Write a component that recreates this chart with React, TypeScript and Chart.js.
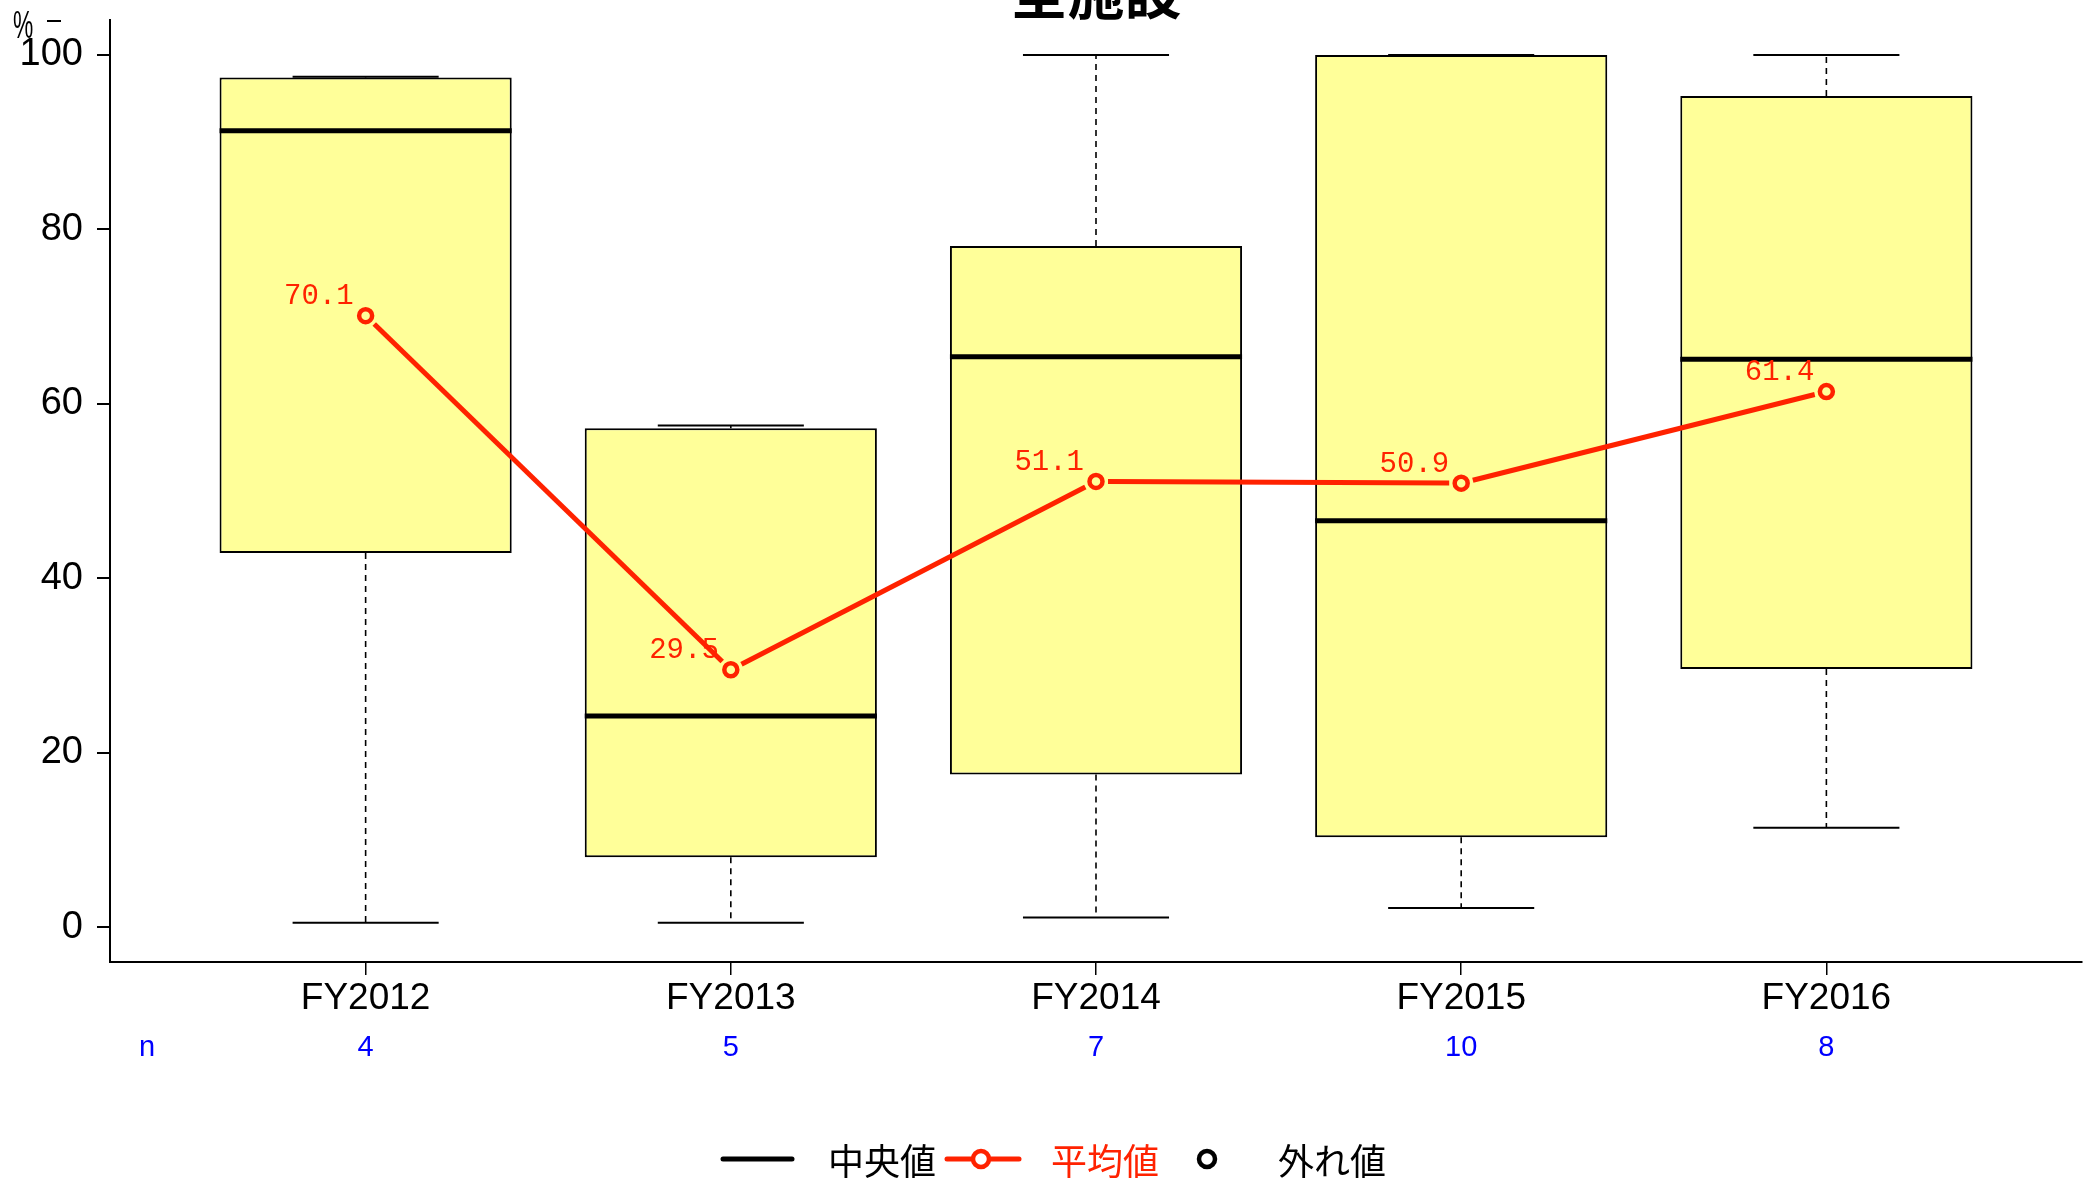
import React, { useEffect, useRef } from "react";
import { Chart, registerables } from "chart.js";

Chart.register(...registerables);

const categories = ["FY2012", "FY2013", "FY2014", "FY2015", "FY2016"];
const nValues = [4, 5, 7, 10, 8];
const whiskerLow = [0.5, 0.5, 1.1, 2.2, 11.4];
const q1 = [42.9, 8.0, 17.5, 10.3, 29.6];
const median = [91.3, 24.2, 65.4, 46.6, 65.1];
const q3 = [97.4, 57.2, 78.1, 100, 95.3];
const whiskerHigh = [97.5, 57.5, 100, 100, 100];
const means = [70.1, 29.5, 51.1, 50.9, 61.4];
const yTicks = [0, 20, 40, 60, 80, 100];

const RED = "#FF2200";
const BOX_FILL = "#FFFF99";
const TICK_FONT = "Liberation Sans";
const CJK_FONT = "'Noto Sans CJK JP'";

const boxPlugin = {
  id: "boxExtras",
  afterDatasetDraw(chart: any, args: any) {
    if (args.index !== 0) return;
    const ctx = chart.ctx;
    const xs = chart.scales.x;
    const ys = chart.scales.y;
    const unit = xs.getPixelForValue(1) - xs.getPixelForValue(0);
    ctx.save();
    categories.forEach((_, i) => {
      const cx = xs.getPixelForValue(i);
      ctx.strokeStyle = "#000";
      ctx.lineWidth = 1.6;
      ctx.setLineDash([6, 5]);
      ctx.beginPath();
      ctx.moveTo(cx, ys.getPixelForValue(q1[i]));
      ctx.lineTo(cx, ys.getPixelForValue(whiskerLow[i]));
      if (whiskerHigh[i] > q3[i]) {
        ctx.moveTo(cx, ys.getPixelForValue(q3[i]));
        ctx.lineTo(cx, ys.getPixelForValue(whiskerHigh[i]));
      }
      ctx.stroke();
      ctx.setLineDash([]);
      ctx.lineWidth = 2;
      ctx.beginPath();
      const hw = unit * 0.2;
      const yl = ys.getPixelForValue(whiskerLow[i]);
      const yh = ys.getPixelForValue(whiskerHigh[i]);
      ctx.moveTo(cx - hw, yl);
      ctx.lineTo(cx + hw, yl);
      ctx.moveTo(cx - hw, yh);
      ctx.lineTo(cx + hw, yh);
      ctx.stroke();
      ctx.lineWidth = 5;
      const bw = unit * 0.4;
      const ym = ys.getPixelForValue(median[i]);
      ctx.beginPath();
      ctx.moveTo(cx - bw, ym);
      ctx.lineTo(cx + bw, ym);
      ctx.stroke();
    });
    ctx.restore();
  },
  afterDatasetsDraw(chart: any) {
    const ctx = chart.ctx;
    const meta = chart.getDatasetMeta(1);
    const pts = meta.data.map((p: any) => ({ x: p.x, y: p.y }));
    ctx.save();
    ctx.strokeStyle = RED;
    ctx.lineWidth = 5;
    ctx.lineCap = "butt";
    const gap = 12;
    for (let i = 0; i < pts.length - 1; i++) {
      const a = pts[i];
      const b = pts[i + 1];
      const dx = b.x - a.x;
      const dy = b.y - a.y;
      const len = Math.hypot(dx, dy);
      const ux = dx / len;
      const uy = dy / len;
      ctx.beginPath();
      ctx.moveTo(a.x + ux * gap, a.y + uy * gap);
      ctx.lineTo(b.x - ux * gap, b.y - uy * gap);
      ctx.stroke();
    }
    ctx.fillStyle = RED;
    ctx.font = "29px 'Liberation Mono'";
    ctx.textAlign = "right";
    ctx.textBaseline = "middle";
    pts.forEach((p: any, i: number) => {
      ctx.fillText(means[i].toFixed(1), p.x - 12, p.y - 19);
    });
    ctx.restore();
  },
  afterDraw(chart: any) {
    const ctx = chart.ctx;
    const xs = chart.scales.x;
    ctx.save();
    ctx.fillStyle = "#000";
    ctx.font = `bold 57px ${CJK_FONT}`;
    ctx.textAlign = "center";
    ctx.textBaseline = "alphabetic";
    ctx.fillText("全施設", (chart.chartArea.left + chart.chartArea.right) / 2, 14);
    ctx.save();
    ctx.translate(13, 38);
    ctx.scale(0.6, 1);
    ctx.font = `38px ${TICK_FONT}`;
    ctx.textAlign = "left";
    ctx.textBaseline = "alphabetic";
    ctx.fillText("%", 0, 0);
    ctx.restore();
    ctx.strokeStyle = "#000";
    ctx.lineWidth = 2;
    ctx.beginPath();
    ctx.moveTo(47, 21);
    ctx.lineTo(61, 21);
    ctx.stroke();
    ctx.fillStyle = "#0000FF";
    ctx.font = `29px ${TICK_FONT}`;
    ctx.textAlign = "center";
    ctx.textBaseline = "middle";
    ctx.fillText("n", 147, 1048);
    nValues.forEach((n, i) => {
      ctx.fillText(String(n), xs.getPixelForValue(i), 1048);
    });
    const ly = 1159;
    ctx.lineCap = "round";
    ctx.strokeStyle = "#000";
    ctx.lineWidth = 5;
    ctx.beginPath();
    ctx.moveTo(723, ly);
    ctx.lineTo(792, ly);
    ctx.stroke();
    ctx.font = `36px ${CJK_FONT}`;
    ctx.textAlign = "left";
    ctx.textBaseline = "middle";
    ctx.fillStyle = "#000";
    ctx.fillText("中央値", 828, ly + 2);
    ctx.strokeStyle = RED;
    ctx.beginPath();
    ctx.moveTo(947, ly);
    ctx.lineTo(1019, ly);
    ctx.stroke();
    ctx.fillStyle = "#fff";
    ctx.lineWidth = 4.5;
    ctx.beginPath();
    ctx.arc(981, ly, 8, 0, Math.PI * 2);
    ctx.fill();
    ctx.stroke();
    ctx.fillStyle = RED;
    ctx.fillText("平均値", 1051, ly + 2);
    ctx.strokeStyle = "#000";
    ctx.beginPath();
    ctx.arc(1207, ly, 8, 0, Math.PI * 2);
    ctx.stroke();
    ctx.fillStyle = "#000";
    ctx.fillText("外れ値", 1278, ly + 2);
    ctx.restore();
  },
};

export default function App() {
  const ref = useRef<HTMLCanvasElement | null>(null);
  useEffect(() => {
    if (!ref.current) return;
    const chart = new Chart(ref.current, {
      type: "bar",
      data: {
        datasets: [
          {
            type: "bar",
            data: categories.map((_, i) => ({ x: i, y: [q1[i], q3[i]] })) as any,
            backgroundColor: BOX_FILL,
            borderColor: "#000",
            borderWidth: 2,
            borderSkipped: false,
            barPercentage: 0.8,
            categoryPercentage: 1,
            order: 2,
          } as any,
          {
            type: "line",
            data: categories.map((_, i) => ({ x: i, y: means[i] })) as any,
            showLine: false,
            pointRadius: 6.5,
            pointBorderWidth: 4.5,
            pointBorderColor: RED,
            pointBackgroundColor: "rgba(0,0,0,0)",
            borderColor: RED,
            order: 1,
          } as any,
        ],
      },
      options: {
        responsive: false,
        animation: false,
        layout: { padding: { top: 20, right: 10, left: 0, bottom: 0 } },
        plugins: {
          legend: { display: false },
          tooltip: { enabled: false },
          title: { display: false },
        },
        scales: {
          x: {
            type: "linear",
            min: -0.7,
            max: 4.7,
            offset: false,
            afterBuildTicks: (s: any) => {
              s.ticks = categories.map((_, i) => ({ value: i }));
            },
            afterFit: (s: any) => {
              s.height = 221;
              s.paddingLeft = 0;
              s.paddingRight = 0;
            },
            ticks: {
              callback: (v: any) => categories[v as number] ?? "",
              color: "#000",
              font: { family: TICK_FONT, size: 37 },
              padding: 2,
              maxRotation: 0,
              autoSkip: false,
            },
            grid: {
              display: true,
              offset: false,
              drawOnChartArea: false,
              drawTicks: true,
              tickLength: 13,
              color: "#000",
              lineWidth: 1.5,
            },
            border: { display: true, color: "#000", width: 2 },
          },
          y: {
            type: "linear",
            min: -4,
            max: 104,
            afterBuildTicks: (s: any) => {
              s.ticks = yTicks.map((v) => ({ value: v }));
            },
            afterFit: (s: any) => {
              s.width = 110;
              s.paddingTop = 0;
              s.paddingBottom = 0;
            },
            ticks: {
              color: "#000",
              font: { family: TICK_FONT, size: 38 },
              padding: 14,
            },
            grid: {
              display: true,
              drawOnChartArea: false,
              drawTicks: true,
              tickLength: 13,
              color: "#000",
              lineWidth: 2,
            },
            border: { display: true, color: "#000", width: 2 },
          },
        },
      },
      plugins: [boxPlugin],
    });
    return () => chart.destroy();
  }, []);
  return (
    <div style={{ position: "fixed", left: 0, top: 0, width: 2093, height: 1183, background: "#fff" }}>
      <canvas ref={ref} width={2093} height={1183} style={{ width: 2093, height: 1183, display: "block" }} />
    </div>
  );
}
